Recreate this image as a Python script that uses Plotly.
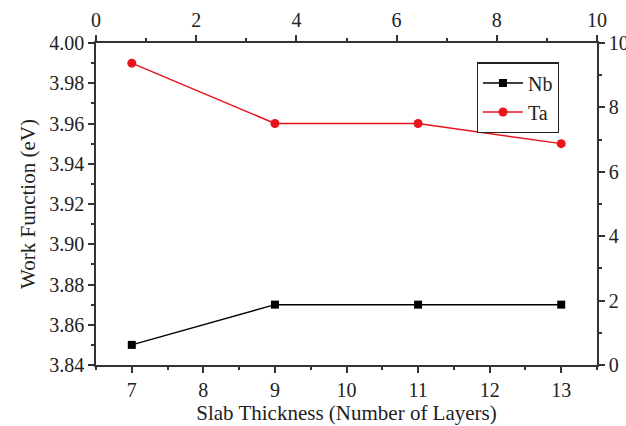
import plotly.graph_objects as go

layers = [7, 9, 11, 13]
nb_wf = [3.85, 3.87, 3.87, 3.87]
ta_wf = [3.99, 3.96, 3.96, 3.95]

FONT = "Liberation Serif, Times New Roman, serif"

fig = go.Figure()
fig.add_trace(go.Scatter(x=layers, y=nb_wf, name="Nb", mode="lines+markers",
                         line=dict(color="black", width=1.5),
                         marker=dict(symbol="square", size=8, color="black")))
fig.add_trace(go.Scatter(x=layers, y=ta_wf, name="Ta", mode="lines+markers",
                         line=dict(color="#e8141c", width=1.5),
                         marker=dict(symbol="circle", size=9, color="#e8141c")))
# empty trace to activate the secondary (top/right) axes
fig.add_trace(go.Scatter(x=[], y=[], xaxis="x2", yaxis="y2", showlegend=False,
                         hoverinfo="skip"))

LC = "#333333"
TF = dict(family=FONT, size=20, color="#222")
def ax(**kw):
    d = dict(showline=True, linecolor=LC, linewidth=1.5, ticks="outside",
             ticklen=6, tickwidth=1.5, tickcolor=LC, showgrid=False, automargin=False,
             zeroline=False, tickfont=TF)
    d.update(kw)
    return d

def mn(dt):
    return dict(dtick=dt, ticklen=3.5, tickwidth=1.5, tickcolor=LC, ticks="outside")

fig.update_layout(
    width=626, height=426,
    margin=dict(l=96, r=29, t=43, b=61),
    paper_bgcolor="white", plot_bgcolor="white",
    font=dict(family=FONT, size=20, color="#222"),
    xaxis=ax(range=[6.5, 13.5], dtick=1, tick0=7, minor=mn(0.5),
             title=dict(text="Slab Thickness (Number of Layers)",
                        font=dict(family=FONT, size=21, color="#222"), standoff=6)),
    yaxis=ax(range=[3.84, 4.00], dtick=0.02, tickformat=".2f", minor=mn(0.01),
             title=dict(text="Work Function (eV)",
                        font=dict(family=FONT, size=21, color="#222"), standoff=8)),
    xaxis2=ax(range=[0, 10], dtick=2, overlaying="x", side="top", anchor="y", minor=mn(1)),
    yaxis2=ax(range=[0, 10], dtick=2, overlaying="y", side="right", anchor="x", minor=mn(1)),
    legend=dict(x=0.76, y=0.94, xanchor="left", yanchor="top",
                bordercolor="#222", borderwidth=1.2, bgcolor="white",
                font=dict(family=FONT, size=20, color="#222"),
                itemwidth=40, tracegroupgap=0),
)

fig.write_html(
    "out.html",
    config={"displayModeBar": False},
    post_script="document.body.style.margin='0';document.body.style.overflow='hidden';",
)
